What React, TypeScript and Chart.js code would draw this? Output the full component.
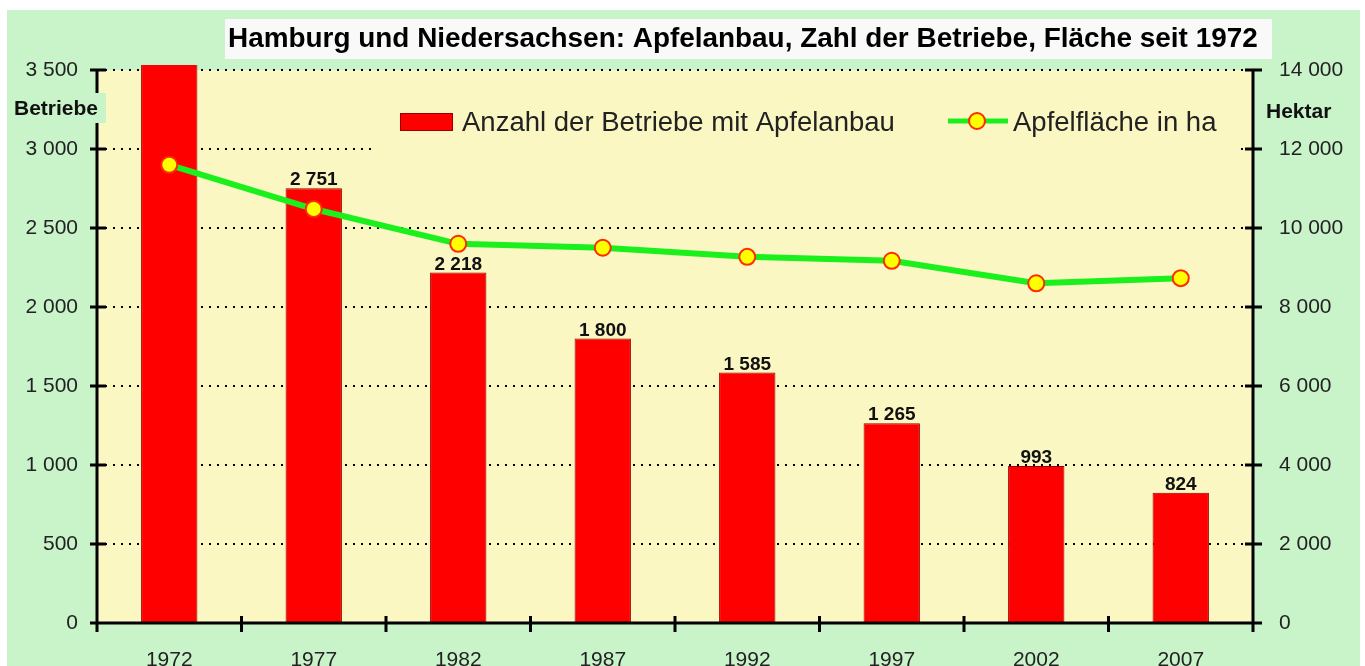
import React, { useEffect, useRef } from "react";
import { Chart, registerables } from "chart.js";

Chart.register(...registerables);

const years = ["1972", "1977", "1982", "1987", "1992", "1997", "2002", "2007"];
const betriebe = [3900, 2751, 2218, 1800, 1585, 1265, 993, 824];
const flaeche = [11600, 10480, 9600, 9500, 9270, 9170, 8600, 8730];
const leftTicks = [0, 500, 1000, 1500, 2000, 2500, 3000, 3500];
const rightTicks = [0, 2000, 4000, 6000, 8000, 10000, 12000, 14000];

const TITLE = "Hamburg und Niedersachsen: Apfelanbau, Zahl der Betriebe, Fläche seit 1972";
const BAR_LABEL = "Anzahl der Betriebe mit Apfelanbau";
const LINE_LABEL = "Apfelfläche in ha";
const LEFT_TITLE = "Betriebe";
const RIGHT_TITLE = "Hektar";

const W = 1365;
const H = 666;
const GREEN = "#c9f3c9";
const YELLOW = "#faf7c2";
const BAR_RED = "#ff0000";
const BAR_BORDER = "#990000";
const LINE_GREEN = "#1cf01c";
const PT_FILL = "#ffff00";
const PT_BORDER = "#ff2a00";
const FONT = '"Liberation Sans", Arial, sans-serif';

const fmt = (n: number) => String(n).replace(/\B(?=(\d{3})+(?!\d))/g, " ");

const fitFont = (ctx: any, text: string, base: number, width: number, bold: boolean) => {
  ctx.font = `${bold ? "bold " : ""}${base}px ${FONT}`;
  const w = ctx.measureText(text).width;
  const size = base * width / w;
  ctx.font = `${bold ? "bold " : ""}${size}px ${FONT}`;
};

const decorPlugin = {
  id: "decor",
  beforeDraw(chart: any) {
    const { ctx, chartArea: a } = chart;
    ctx.save();
    ctx.fillStyle = "#ffffff";
    ctx.fillRect(0, 0, W, H);
    ctx.fillStyle = GREEN;
    ctx.fillRect(7, 10, 1353, H - 10);
    ctx.fillStyle = YELLOW;
    ctx.fillRect(a.left, a.top, a.right - a.left, a.bottom - a.top);
    // title box
    ctx.fillStyle = "#f9f9f9";
    ctx.fillRect(225, 19, 1047, 40);
    fitFont(ctx, TITLE, 26, 1030, true);
    ctx.fillStyle = "#000";
    ctx.textAlign = "left";
    ctx.textBaseline = "alphabetic";
    ctx.fillText(TITLE, 228, 47);
    ctx.restore();
  },
  beforeDatasetsDraw(chart: any) {
    const { ctx } = chart;
    ctx.save();
    ctx.fillStyle = YELLOW;
    ctx.fillRect(375, 84, 862, 76);
    ctx.restore();
  },
  afterDatasetsDraw(chart: any) {
    const { ctx, chartArea: a } = chart;
    const yL = chart.scales.y;
    const yR = chart.scales.y1;
    const x = chart.scales.x;
    ctx.save();
    // bar labels
    const meta = chart.getDatasetMeta(1);
    ctx.font = `bold 19px ${FONT}`;
    ctx.fillStyle = "#111";
    ctx.textAlign = "center";
    ctx.textBaseline = "alphabetic";
    meta.data.forEach((el: any, i: number) => {
      const v = betriebe[i];
      if (v > yL.max) return;
      ctx.fillText(fmt(v), el.x, el.y - 3);
    });
    // axes
    ctx.strokeStyle = "#000";
    ctx.lineWidth = 3;
    ctx.lineCap = "butt";
    ctx.beginPath();
    ctx.moveTo(a.left, a.top - 1);
    ctx.lineTo(a.left, a.bottom + 9);
    ctx.moveTo(a.right, a.top - 1);
    ctx.lineTo(a.right, a.bottom + 9);
    ctx.moveTo(a.left - 7, a.bottom);
    ctx.lineTo(a.right + 9, a.bottom);
    yL.ticks.forEach((t: any) => {
      const py = yL.getPixelForValue(t.value);
      ctx.moveTo(a.left - 7, py);
      ctx.lineTo(a.left + 9, py);
    });
    yR.ticks.forEach((t: any) => {
      const py = yR.getPixelForValue(t.value);
      ctx.moveTo(a.right - 8, py);
      ctx.lineTo(a.right + 9, py);
    });
    for (let i = 0; i < years.length - 1; i++) {
      const px = (x.getPixelForValue(i) + x.getPixelForValue(i + 1)) / 2;
      ctx.moveTo(px, a.bottom - 7);
      ctx.lineTo(px, a.bottom + 9);
    }
    ctx.stroke();
    // axis titles
    ctx.fillStyle = GREEN;
    ctx.fillRect(12, 93, 94, 30);
    ctx.font = `bold 21px ${FONT}`;
    ctx.fillStyle = "#111";
    ctx.textAlign = "left";
    ctx.fillText(LEFT_TITLE, 14, 115);
    ctx.fillText(RIGHT_TITLE, 1266, 118);
    // legend
    ctx.fillStyle = BAR_RED;
    ctx.strokeStyle = BAR_BORDER;
    ctx.lineWidth = 1;
    ctx.fillRect(400, 113, 53, 18);
    ctx.strokeRect(400.5, 113.5, 52, 17);
    fitFont(ctx, BAR_LABEL, 27, 433, false);
    ctx.fillStyle = "#222";
    ctx.fillText(BAR_LABEL, 462, 131);
    ctx.strokeStyle = LINE_GREEN;
    ctx.lineWidth = 5;
    ctx.beginPath();
    ctx.moveTo(948, 121);
    ctx.lineTo(1008, 121);
    ctx.stroke();
    ctx.beginPath();
    ctx.arc(977, 121, 8, 0, Math.PI * 2);
    ctx.fillStyle = PT_FILL;
    ctx.fill();
    ctx.strokeStyle = PT_BORDER;
    ctx.lineWidth = 2;
    ctx.stroke();
    ctx.fillStyle = "#222";
    ctx.fillText(LINE_LABEL, 1013, 131);
    ctx.restore();
  },
};

export default function App() {
  const ref = useRef<HTMLCanvasElement | null>(null);
  useEffect(() => {
    if (!ref.current) return;
    const chart = new Chart(ref.current, {
      type: "bar",
      data: {
        labels: years,
        datasets: [
          {
            type: "line",
            label: LINE_LABEL,
            data: flaeche,
            yAxisID: "y1",
            borderColor: LINE_GREEN,
            borderWidth: 6,
            pointRadius: 8,
            pointBackgroundColor: PT_FILL,
            pointBorderColor: PT_BORDER,
            pointBorderWidth: 2,
            tension: 0,
            order: 0,
          } as any,
          {
            type: "bar",
            label: BAR_LABEL,
            data: betriebe,
            yAxisID: "y",
            backgroundColor: BAR_RED,
            borderColor: BAR_BORDER,
            borderWidth: 1,
            barPercentage: 0.39,
            categoryPercentage: 1,
            clip: { left: 0, top: 5, right: 0, bottom: 0 },
            order: 1,
          } as any,
        ],
      },
      options: {
        responsive: false,
        animation: false,
        devicePixelRatio: 1,
        layout: { padding: { top: 70, left: 0, right: 0, bottom: 0 } },
        plugins: { legend: { display: false }, title: { display: false }, tooltip: { enabled: false } },
        scales: {
          x: {
            grid: { display: false, drawTicks: false },
            border: { display: false },
            ticks: { font: { family: FONT, size: 21 }, color: "#222", padding: 25, maxRotation: 0 },
            afterFit: (s: any) => { s.height = 43; },
          },
          y: {
            position: "left",
            min: 0,
            max: 3500,
            afterBuildTicks: (s: any) => { s.ticks = leftTicks.map((v) => ({ value: v })); },
            grid: { drawTicks: false, color: "#000", lineWidth: 2 },
            border: { display: false, dash: [2, 6] },
            ticks: { font: { family: FONT, size: 21 }, color: "#222", padding: 19, callback: (v: any) => fmt(Number(v)) },
            afterFit: (s: any) => { s.width = 97; },
          },
          y1: {
            position: "right",
            min: 0,
            max: 14000,
            afterBuildTicks: (s: any) => { s.ticks = rightTicks.map((v) => ({ value: v })); },
            grid: { drawOnChartArea: false, drawTicks: false },
            border: { display: false },
            ticks: { font: { family: FONT, size: 21 }, color: "#222", padding: 26, callback: (v: any) => fmt(Number(v)) },
            afterFit: (s: any) => { s.width = 112; },
          },
        },
      },
      plugins: [decorPlugin],
    });
    return () => chart.destroy();
  }, []);
  return (
    <div style={{ position: "absolute", left: 0, top: 0, width: W, height: H, overflow: "hidden" }}>
      <canvas ref={ref} width={W} height={H} style={{ display: "block" }} />
    </div>
  );
}
